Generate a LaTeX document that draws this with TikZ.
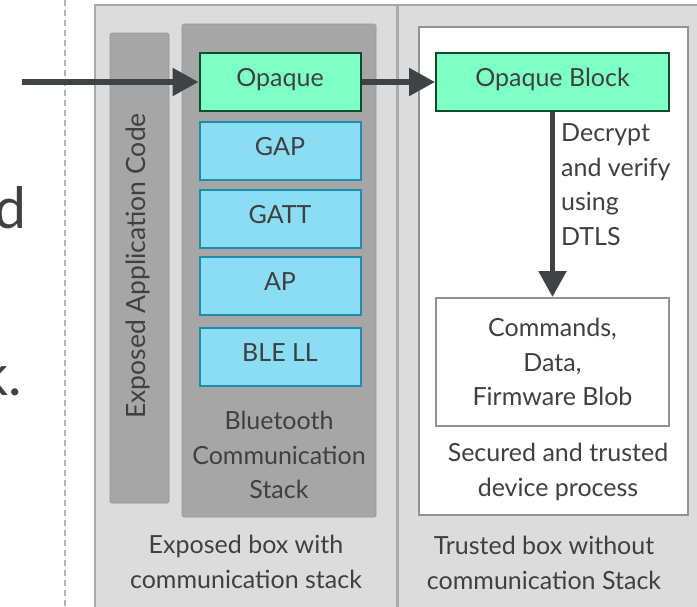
\documentclass[tikz,border=0pt]{standalone}
\usepackage{fontspec}
\setmainfont{Lato}
\usetikzlibrary{arrows.meta,positioning}
\definecolor{mint}{HTML}{7DFFC6}
\definecolor{darkgreen}{HTML}{0E4D2C}
\definecolor{skyblue}{HTML}{8ADDF2}
\definecolor{tealedge}{HTML}{1E8CAA}
\definecolor{panelgray}{HTML}{DCDCDC}
\definecolor{paneledge}{HTML}{A9A9A9}
\definecolor{bargray}{HTML}{A6A6A6}
\definecolor{txtgray}{HTML}{404040}
\definecolor{arrowgray}{HTML}{3F4345}
\tikzset{
  every node/.style={text=txtgray, font=\fontsize{25}{34.5}\selectfont},
  layer/.style={draw=tealedge, line width=2pt, fill=skyblue, minimum width=161pt,
    minimum height=58pt, inner sep=0pt, text height=17.5pt, text depth=8pt},
  opaquebox/.style={layer, draw=darkgreen, fill=mint},
  panel/.style={draw=paneledge, line width=1.5pt, fill=panelgray},
  bar/.style={fill=bargray, draw=bargray!90!black, line width=0.6pt, rounded corners=1.5pt},
  whitebox/.style={draw=gray!85, line width=2pt, fill=white},
  boxtext/.style={align=center, inner sep=0pt},
  flow/.style={-{Triangle[length=26pt,width=27pt]}, line width=5.5pt, draw=arrowgray},
}
\begin{document}
\begin{tikzpicture}[x=1pt,y=-1pt]
\useasboundingbox (0,0) rectangle (697,606);
\clip (0,0) rectangle (697,606);
% cut-off slide text
\node[anchor=base east, inner sep=0pt, font=\fontsize{57}{60}\selectfont] (slided) at (27,228) {d};
\node[anchor=base east, inner sep=0pt, font=\fontsize{57}{60}\selectfont] (slidek) at (22,395) {k.};
\draw[gray!60, line width=1.8pt, dash pattern=on 6pt off 4pt] (65,0) -- (65,606);
% exposed box
\draw[panel] (95,5) rectangle (397,620);
\draw[bar] (110,33) rectangle (169,503);
\node[rotate=90, inner sep=0pt, font=\fontsize{26.5}{30}\selectfont] (appcode) at (138,266) {Exposed Application Code};
\draw[bar] (182,24) rectangle (376,517);
\node[opaquebox] (opaque) at (280,82) {Opaque};
\node[layer] (gap) at (280,151) {GAP};
\node[layer] (gatt) at (280,219) {GATT};
\node[layer] (ap) at (280,286) {AP};
\node[layer] (blell) at (280,357) {BLE LL};
\node[boxtext] (stacktext) at (279,455) {Bluetooth\\Communication\\Stack};
\node[boxtext] (exposedtext) at (246,562) {Exposed box with\\communication stack};
% trusted box
\draw[panel] (398,5) rectangle (710,620);
\draw[whitebox] (419,27) rectangle (688,515);
\node[opaquebox, minimum width=233pt] (opaqueblock) at (552.5,82) {Opaque Block};
\node[whitebox, boxtext, minimum width=233pt, minimum height=128pt] (cmds) at (552.5,362)
  {Commands,\\Data,\\Firmware Blob};
\node[anchor=west, align=left, inner sep=0pt] (decrypt) at (561,184.5) {Decrypt\\and verify\\using\\DTLS};
\node[boxtext] (securedtext) at (558,472) {Secured and trusted\\device process};
\node[boxtext] (trustedtext) at (544,563) {Trusted box without\\communication Stack};
% data flow
\coordinate (src) at (22,82);
\draw[flow] (src) -- (opaque.west);
\draw[flow] (opaque.east) -- (opaqueblock.west);
\draw[flow] (opaqueblock.south) -- (cmds.north);
\end{tikzpicture}
\end{document}
